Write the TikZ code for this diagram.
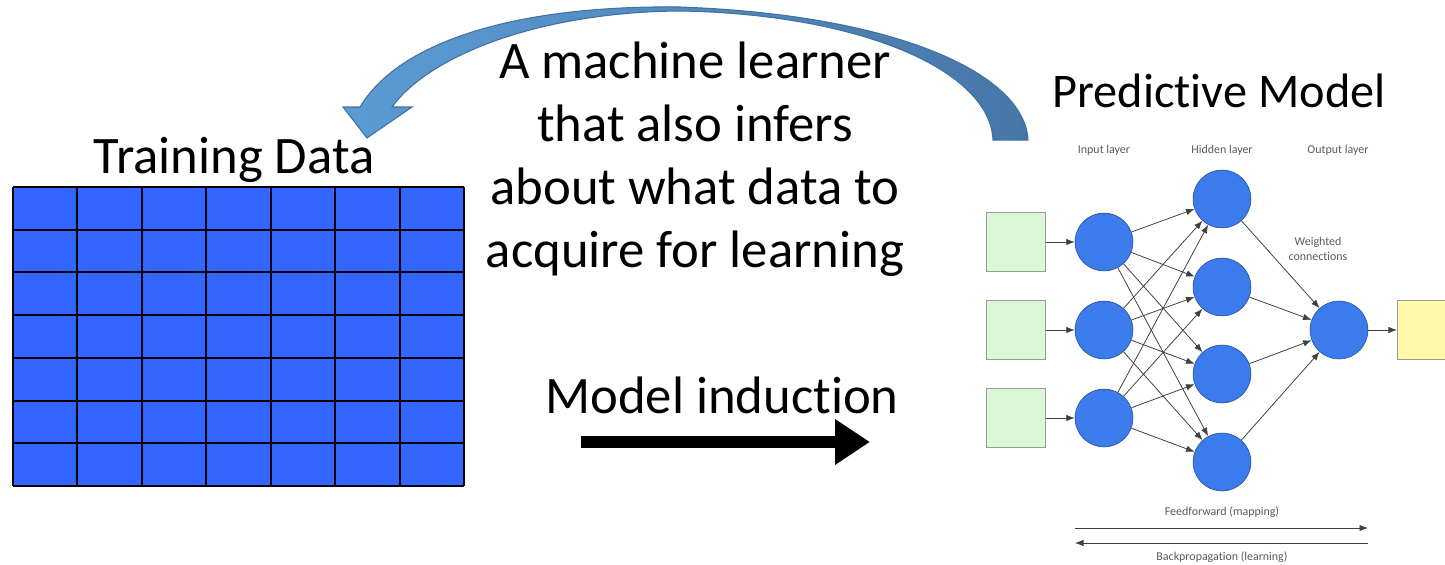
\documentclass[tikz,border=0pt]{standalone}
\usepackage{fontspec}
\setmainfont{Carlito}[Ligatures={NoCommon}]
\usetikzlibrary{positioning, arrows.meta, calc}

\definecolor{cellblue}{HTML}{3366FF}
\definecolor{neuronblue}{HTML}{3B7BEB}
\definecolor{arcleft}{HTML}{5B9BD5}
\definecolor{arcright}{HTML}{4777A9}
\definecolor{arcline}{HTML}{41719C}
\definecolor{inputgreen}{HTML}{DAF8D6}
\definecolor{outputyellow}{HTML}{FFF9A8}

\tikzset{
    bigtext/.style={font=\fontsize{30}{35.7}\selectfont, inner sep=0pt},
    smalltext/.style={font=\fontsize{6.8}{8.2}\selectfont, text=black!65, inner sep=0pt},
    neuron/.style={circle, fill=neuronblue, draw=neuronblue!60!black, line width=0.3pt, minimum size=1.16cm, inner sep=0pt},
    unitbox/.style={rectangle, draw=black!40, line width=0.6pt, minimum size=1.18cm, inner sep=0pt},
    wire/.style={draw=black!75, line width=0.45pt, -{Latex[length=0.17cm, width=0.13cm]}},
}

\begin{document}
\begin{tikzpicture}[
    x=0.02cm, y=-0.02cm
]
\useasboundingbox (0,0) rectangle (1445,565);

% Dimensions of the data table
\def\cols{7}
\def\rows{7}
\def\cellw{64.43}
\def\cellh{42.71}

% Training data table
\fill[cellblue] (13,187) rectangle (464,486);
\foreach \c in {0,...,\cols} {
    \draw[line width=1.2pt] (13+\c*\cellw,187) -- (13+\c*\cellw,486);
}
\foreach \r in {0,...,\rows} {
    \draw[line width=1.2pt] (13,187+\r*\cellh) -- (464,187+\r*\cellh);
}
\node[bigtext, anchor=base] (data) at (234,173) {Training Data};

% Curved arrow back to the data
\draw[left color=arcleft, right color=arcright, draw=arcline, line width=0.6pt]
    (1028,140) .. controls (1025,75) and (900,15) .. (680,7)
    .. controls (520,5) and (400,40) .. (360,107)
    -- (343,107) -- (367,138) -- (412,107) -- (392,107)
    .. controls (430,55) and (540,12) .. (680,11)
    .. controls (860,14) and (990,70) .. (993,140) -- cycle;

% base of a multi-line node = baseline of its last line
\node[bigtext, align=center, anchor=base] (learner) at (695,267)
    {A machine learner\\that also infers\\about what data to\\acquire for learning};

% Model induction
\node[bigtext, anchor=base] (induction) at (722,413) {Model induction};
\coordinate (ind-start) at (581,442);
\coordinate (ind-end) at (870,442);
\draw[line width=6.3pt, -{Triangle[length=0.7cm, width=0.87cm]}] (ind-start) -- (ind-end);

% Predictive model
\node[bigtext, font=\fontsize{27.5}{33}\selectfont, anchor=base] (model) at (1219,107) {Predictive Model};

% Layer titles
\node[smalltext] (inlabel) at (1104,150) {Input layer};
\node[smalltext] (hidlabel) at (1222,150) {Hidden layer};
\node[smalltext] (outlabel) at (1338,150) {Output layer};

% Inputs and input layer
\foreach \i/\y in {1/242, 2/330, 3/418} {
    \node[unitbox, fill=inputgreen] (sq\i) at (1016,\y) {};
    \node[neuron] (in\i) at (1104,\y) {};
}

% Hidden layer
\foreach \j/\y in {1/199, 2/287, 3/374, 4/462} {
    \node[neuron] (h\j) at (1222,\y) {};
}

% Output layer
\node[neuron] (out) at (1339,330) {};
\begin{scope}
    \clip (0,0) rectangle (1445,565);
    \node[unitbox, fill=outputyellow] (res) at (1427,330) {};
\end{scope}

% Weighted connections
\foreach \i in {1,2,3} {
    \draw[wire] (sq\i) -- (in\i);
    \foreach \j in {1,...,4} {
        \draw[wire] (in\i) -- (h\j);
    }
}
\foreach \j in {1,...,4} {
    \draw[wire] (h\j) -- (out);
}
\draw[wire] (out) -- (res);
\node[smalltext, align=center] (weights) at (1318,249) {Weighted\\connections};

% Feedforward / backpropagation
\node[smalltext] (fflabel) at (1222,512) {Feedforward (mapping)};
\coordinate (ff-start) at (1075,528);
\coordinate (ff-end) at (1368,528);
\draw[wire] (ff-start) -- (ff-end);
\coordinate (bp-start) at (1368,543);
\coordinate (bp-end) at (1075,543);
\draw[wire] (bp-start) -- (bp-end);
\node[smalltext] (bplabel) at (1222,557) {Backpropagation (learning)};

\end{tikzpicture}
\end{document}
